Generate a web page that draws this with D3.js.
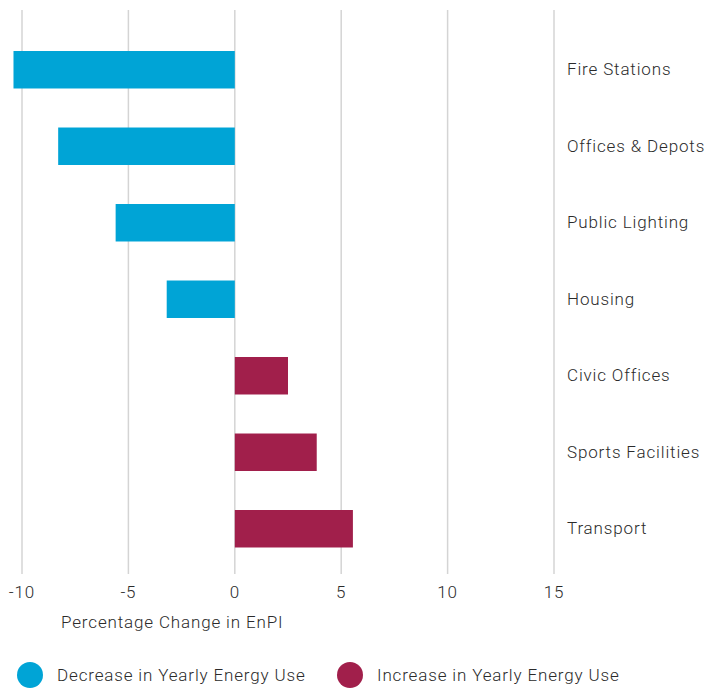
<!DOCTYPE html>
<html>
<head>
<meta charset="utf-8">
<script src="https://cdn.jsdelivr.net/npm/d3@7"></script>
<style>
  body { margin: 0; background: #fff; }
  text { font-family: Roboto, "Open Sans", sans-serif; fill: #2b2b2b; font-weight: 300; letter-spacing: 0.85px; }
</style>
</head>
<body>
<script>
(function() {

// categories and values (percentage change in EnPI)
var categories = ["Fire Stations", "Offices & Depots", "Public Lighting", "Housing",
                  "Civic Offices", "Sports Facilities", "Transport"];
var values = [-10.4, -8.3, -5.6, -3.2, 2.5, 3.85, 5.55];
var xTicks = [-10, -5, 0, 5, 10, 15];
var legendLabels = ["Decrease in Yearly Energy Use", "Increase in Yearly Energy Use"];

var blue = "#00a4d6",
    maroon = "#a11f4b";

var width = 705,
    height = 689;

var svg = d3.select("body").append("svg")
    .attr("width", width)
    .attr("height", height);

// x scale: -10 at 22px, 15 at 554px
var x = d3.scaleLinear()
    .domain([-10, 15])
    .range([22, 554]);

var y = d3.scaleBand()
    .domain(categories)
    .range([31.5, 567])
    .paddingInner(0.51)
    .paddingOuter(0.255);

// vertical grid lines
svg.append("g")
    .selectAll("line")
    .data(xTicks)
    .enter()
    .append("line")
    .attr("x1", function(d) { return x(d); })
    .attr("x2", function(d) { return x(d); })
    .attr("y1", 10)
    .attr("y2", 574)
    .attr("stroke", "#d4d4d4")
    .attr("stroke-width", 1.5);

// bars
svg.append("g")
    .selectAll("rect")
    .data(values)
    .enter()
    .append("rect")
    .attr("x", function(d) { return x(Math.min(0, d)); })
    .attr("width", function(d) { return Math.abs(x(d) - x(0)); })
    .attr("y", function(d, i) { return y(categories[i]); })
    .attr("height", y.bandwidth())
    .attr("fill", function(d) { return d < 0 ? blue : maroon; });

// category labels on the right
svg.append("g")
    .selectAll("text")
    .data(categories)
    .enter()
    .append("text")
    .attr("x", 567)
    .attr("y", function(d) { return y(d) + y.bandwidth() / 2; })
    .attr("dy", "0.32em")
    .attr("font-size", "17px")
    .text(function(d) { return d; });

// tick labels
svg.append("g")
    .selectAll("text")
    .data(xTicks)
    .enter()
    .append("text")
    .attr("x", function(d) { return x(d); })
    .attr("y", 598)
    .attr("text-anchor", "middle")
    .attr("font-size", "17px")
    .text(function(d) { return d; });

// axis title
svg.append("text")
    .attr("x", 61)
    .attr("y", 628)
    .attr("font-size", "17px")
    .text("Percentage Change in EnPI");

// legend
var legend = svg.append("g")
    .selectAll("g")
    .data(legendLabels)
    .enter()
    .append("g")
    .attr("transform", function(d, i) { return "translate(" + (i === 0 ? 30 : 350) + ",675)"; });

legend.append("circle")
    .attr("r", 13)
    .attr("fill", function(d, i) { return i === 0 ? blue : maroon; });

legend.append("text")
    .attr("x", 27)
    .attr("dy", "0.35em")
    .attr("font-size", "17px")
    .text(function(d) { return d; });

})();
</script>
</body>
</html>
